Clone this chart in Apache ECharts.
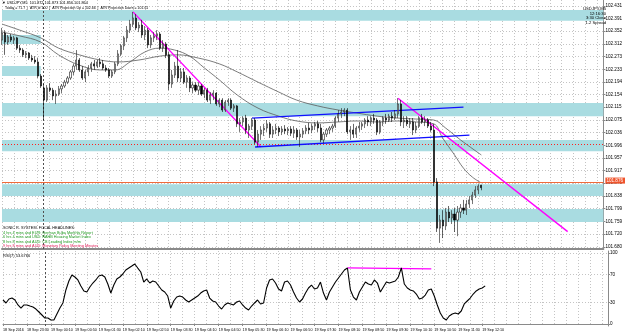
<!DOCTYPE html>
<html><head><meta charset="utf-8">
<script src="https://cdn.jsdelivr.net/npm/echarts@6/dist/echarts.min.js"></script>
<style>html,body{margin:0;padding:0;background:#fff}#c{width:625px;height:335px}</style>
</head><body><div id="c"></div>
<script>
// ---- data ----
const openP = [
102.324,102.346,102.318,102.334,102.324,102.331,102.299,102.293,102.278,102.284,
102.268,102.262,102.256,102.212,102.175,102.137,102.175,102.168,102.150,102.156,
102.172,102.181,102.193,102.206,102.225,102.243,102.262,102.231,102.206,102.225,
102.237,102.250,102.243,102.256,102.250,102.237,102.231,102.212,102.225,102.250,
102.281,102.306,102.331,102.355,102.374,102.393,102.362,102.371,102.340,102.355,
102.309,102.331,102.337,102.343,102.299,102.312,102.278,102.187,102.215,102.243,
102.206,102.225,102.193,102.206,102.175,102.184,102.168,102.181,102.156,102.168,
102.137,102.153,102.159,102.125,102.137,102.106,102.131,102.137,102.112,102.119,
102.063,102.069,102.081,102.044,102.056,102.075,102.006,102.031,102.044,102.050,
102.063,102.031,102.044,102.050,102.038,102.047,102.041,102.047,102.034,102.044,
102.022,102.031,102.041,102.050,102.044,102.056,102.063,102.050,102.013,102.031,
102.044,102.050,102.056,102.081,102.094,102.100,102.106,102.038,102.044,102.031,
102.050,102.056,102.063,102.075,102.069,102.081,102.075,102.038,102.069,102.081,
102.075,102.087,102.081,102.094,102.125,102.069,102.075,102.063,102.069,102.044,
102.056,102.081,102.069,102.075,102.056,102.044,101.882,101.738,101.763,101.745,
101.788,101.770,101.782,101.763,101.788,101.801,101.794,101.813,101.826,101.841,
101.857,101.872];
const highP = [
102.362,102.355,102.340,102.343,102.337,102.334,102.309,102.299,102.290,102.287,
102.278,102.274,102.268,102.218,102.187,102.184,102.190,102.175,102.168,102.181,
102.187,102.200,102.212,102.231,102.250,102.293,102.268,102.243,102.231,102.246,
102.256,102.262,102.262,102.268,102.262,102.246,102.237,102.231,102.256,102.293,
102.312,102.337,102.368,102.387,102.412,102.405,102.380,102.387,102.368,102.362,
102.340,102.349,102.355,102.349,102.324,102.318,102.287,102.231,102.256,102.293,
102.237,102.237,102.215,102.212,102.193,102.193,102.193,102.187,102.175,102.175,
102.162,102.168,102.162,102.143,102.143,102.137,102.143,102.143,102.125,102.122,
102.081,102.087,102.091,102.063,102.081,102.081,102.044,102.056,102.063,102.075,
102.069,102.056,102.063,102.056,102.056,102.059,102.053,102.056,102.056,102.050,
102.044,102.050,102.059,102.066,102.063,102.069,102.072,102.063,102.038,102.050,
102.056,102.063,102.087,102.106,102.112,102.112,102.112,102.056,102.063,102.056,
102.069,102.069,102.081,102.087,102.087,102.094,102.081,102.075,102.087,102.094,
102.094,102.100,102.106,102.143,102.137,102.087,102.087,102.081,102.081,102.069,
102.087,102.094,102.087,102.081,102.069,102.063,101.894,101.779,101.794,101.801,
101.807,101.794,101.801,101.807,101.813,101.826,101.826,101.838,101.851,101.869,
101.875,101.873];
const lowP = [
102.309,102.278,102.309,102.318,102.312,102.293,102.284,102.271,102.268,102.262,
102.256,102.250,102.206,102.175,102.075,102.131,102.162,102.137,102.125,102.150,
102.159,102.175,102.187,102.200,102.215,102.231,102.225,102.200,102.193,102.212,
102.225,102.231,102.237,102.240,102.231,102.225,102.206,102.206,102.218,102.243,
102.274,102.293,102.318,102.346,102.365,102.355,102.349,102.331,102.324,102.299,
102.299,102.318,102.324,102.293,102.287,102.268,102.168,102.175,102.206,102.193,
102.193,102.187,102.175,102.162,102.159,102.162,102.153,102.150,102.143,102.131,
102.125,102.137,102.119,102.115,102.100,102.100,102.119,102.106,102.100,102.053,
102.038,102.056,102.031,102.019,102.044,102.000,101.991,102.013,102.025,102.038,
102.019,102.019,102.031,102.025,102.028,102.031,102.028,102.025,102.019,102.013,
101.991,102.019,102.031,102.031,102.034,102.044,102.038,102.006,102.003,102.022,
102.031,102.038,102.050,102.069,102.081,102.087,102.031,102.013,102.019,102.019,
102.038,102.044,102.050,102.056,102.056,102.063,102.028,102.031,102.056,102.063,
102.069,102.069,102.075,102.081,102.056,102.050,102.056,102.050,102.028,102.034,
102.050,102.063,102.056,102.050,102.038,101.869,101.726,101.692,101.707,101.732,
101.757,101.751,101.726,101.713,101.770,101.782,101.779,101.801,101.813,101.832,
101.844,101.856];
const closeP = [
102.346,102.318,102.334,102.324,102.331,102.299,102.293,102.278,102.284,102.268,
102.262,102.256,102.212,102.181,102.137,102.175,102.168,102.150,102.156,102.172,
102.181,102.193,102.206,102.225,102.243,102.262,102.231,102.206,102.225,102.237,
102.250,102.243,102.256,102.250,102.237,102.231,102.212,102.225,102.250,102.281,
102.306,102.331,102.355,102.374,102.393,102.362,102.371,102.340,102.355,102.309,
102.331,102.337,102.343,102.299,102.312,102.278,102.187,102.215,102.243,102.206,
102.225,102.193,102.206,102.175,102.184,102.168,102.181,102.156,102.168,102.137,
102.153,102.159,102.125,102.137,102.106,102.131,102.137,102.112,102.119,102.063,
102.069,102.081,102.044,102.056,102.075,102.006,102.031,102.044,102.050,102.063,
102.031,102.044,102.050,102.038,102.047,102.041,102.047,102.034,102.044,102.022,
102.031,102.041,102.050,102.044,102.056,102.063,102.050,102.013,102.031,102.044,
102.050,102.056,102.081,102.094,102.100,102.106,102.038,102.044,102.031,102.050,
102.056,102.063,102.075,102.069,102.081,102.075,102.038,102.069,102.081,102.075,
102.087,102.081,102.094,102.125,102.069,102.075,102.063,102.069,102.044,102.056,
102.081,102.069,102.075,102.056,102.044,101.882,101.738,101.763,101.745,101.788,
101.770,101.782,101.763,101.788,101.801,101.794,101.813,101.826,101.841,101.857,
101.869,101.864];
const rsiValues = [
33.8,29.6,35.2,36.6,33.8,26.8,22.5,26.8,26.8,25.3,
23.9,21.1,16.9,12.7,8.4,8.4,5.6,5.6,14.1,22.5,
29.6,47.9,60.5,69.0,66.2,62.0,53.5,46.5,45.1,52.1,
57.7,62.0,67.6,69.0,66.2,56.3,43.6,54.9,63.4,66.2,
70.4,76.0,78.8,81.6,84.5,78.8,73.2,59.1,63.4,57.7,
60.5,59.1,53.5,47.9,45.1,39.4,22.5,32.4,38.0,39.4,
38.0,33.8,31.0,33.8,36.6,39.4,43.6,46.5,47.9,36.6,
32.4,31.0,25.3,21.1,26.8,29.6,28.2,26.8,31.0,32.4,
26.8,22.5,19.7,25.3,29.6,33.8,28.2,29.6,50.7,62.0,
63.4,57.7,49.3,46.5,59.1,60.5,54.9,45.1,36.6,31.0,
35.2,43.6,50.7,54.9,49.3,50.7,59.1,43.6,33.8,45.1,
52.1,59.1,64.8,70.4,76.0,78.8,47.9,38.0,33.8,45.1,
52.1,59.1,56.3,54.9,62.0,57.7,45.1,52.1,59.1,57.7,
59.1,60.5,66.2,79.0,56.3,50.7,47.9,46.5,42.2,35.2,
36.6,40.8,47.9,49.3,39.4,26.8,15.5,8.4,5.6,11.3,
14.1,15.5,14.1,18.3,28.2,32.4,36.6,42.2,46.5,49.3,
50.7,53.7];
// moving averages: [bar index, price] read at intervals
const maSlowPts = [[0,102.374],[6,102.355],[13,102.331],[19,102.299],[26,102.278],[33,102.262],[39,102.256],[46,102.262],[53,102.274],[59,102.278],[66,102.268],[73,102.250],[79,102.225],[86,102.193],[93,102.162],[99,102.137],[106,102.119],[113,102.106],[119,102.097],[126,102.087],[133,102.081],[139,102.078],[145,102.075],[149,102.050],[154,102.013],[161,101.966]];
const maFastPts = [[0,102.349],[6,102.337],[13,102.318],[19,102.278],[26,102.246],[33,102.231],[38,102.231],[43,102.256],[48,102.287],[53,102.299],[58,102.293],[63,102.274],[68,102.237],[73,102.200],[79,102.153],[86,102.112],[93,102.087],[99,102.072],[106,102.066],[113,102.069],[119,102.072],[126,102.069],[133,102.072],[139,102.069],[145,102.063],[148,102.019],[152,101.966],[155,101.925],[158,101.897],[161,101.879]];
const timeLabels = ['18 Sep 2016','18 Sep 23:30','19 Sep 00:10','19 Sep 00:50','19 Sep 01:30','19 Sep 02:10','19 Sep 02:50','19 Sep 03:30','19 Sep 04:10','19 Sep 04:50','19 Sep 05:30','19 Sep 06:10','19 Sep 06:50','19 Sep 07:30','19 Sep 08:10','19 Sep 08:50','19 Sep 09:30','19 Sep 10:10','19 Sep 10:50','19 Sep 11:30','19 Sep 12:10'];
const priceTicks = [102.431,102.391,102.352,102.312,102.273,102.233,102.194,102.154,102.115,102.075,102.036,101.996,101.957,101.917,101.878,101.838,101.799,101.759,101.720,101.680];
const rsiTicks = [0,30,70,100];
// zone rectangles: [first bar, last bar, upper price, lower price]
const zoneRects = [
  [0, 202, 102.418, 102.384],
  [0, 13, 102.340, 102.312],
  [0, 13, 102.243, 102.212],
  [0, 202, 102.128, 102.087],
  [0, 202, 102.013, 101.978],
  [0, 202, 101.875, 101.838],
  [0, 202, 101.798, 101.757]
];
const magentaLines = [[[44,102.412],[87,101.991]],[[133,102.143],[190,101.727]]];
const blueLines = [[[84,102.081],[155,102.115]],[[85,101.991],[157,102.028]]];
const rsiMagentaLine = [[115,78.9],[143,77.5]];
const askPrice = 101.876, bidPrice = 101.864, roundLevel = 102.000;
const daySeparatorIndex = 14;
const slotCount = 203;
const headlines = [
  ['SONIC R. SYSTEM  FOCAL HEADLINES:', '#000000'],
  ['4 hrs 4 mins and EUR: German Buba Monthly Report', '#1f9a1f'],
  ['6 hrs 4 mins and USD: NAHB Housing Market Index', '#1f9a1f'],
  ['8 hrs 8 mins and AUD: CB Leading Index m/m', '#1f9a1f'],
  ['9 hrs 8 mins and AUD: Monetary Policy Meeting Minutes', '#e0205a']
];
const infoRight = ['USDJPY,M5','12:16:30','3:30 Close','1.2 Spread'];

// ---- chart ----
const FONT = 'Liberation Sans';
const cats = Array.from({length: slotCount}, (_, i) => String(i));
const candles = openP.map((o, i) => [o, closeP[i], lowP[i], highP[i]]);
const gridLine = {show: true, interval: (i) => i % 4 === 0, lineStyle: {color: '#c4c4c4', type: [1, 2], width: 1}};
const ySplit = {show: true, lineStyle: {color: '#c4c4c4', type: [1, 2], width: 1}};
const sepLine = {xAxis: daySeparatorIndex, lineStyle: {color: '#505050', type: [2, 2], width: 1}};

const chart = echarts.init(document.getElementById('c'), null, {renderer: 'canvas'});
const option = {
  animation: false,
  backgroundColor: '#ffffff',
  grid: [
    {left: 2, right: 17, top: 0, height: 249},
    {left: 2, right: 17, top: 251, height: 75}
  ],
  xAxis: [
    {type: 'category', gridIndex: 0, data: cats, boundaryGap: false,
     axisLine: {show: true, lineStyle: {color: '#8a8a8a', width: 2}},
     axisTick: {show: false}, axisLabel: {show: false}, splitLine: gridLine},
    {type: 'category', gridIndex: 1, data: cats, boundaryGap: false,
     axisLine: {show: true, lineStyle: {color: '#8a8a8a', width: 1}},
     axisTick: {show: true, interval: (i) => i % 8 === 0 && i <= 160, length: 2, lineStyle: {color: '#8a8a8a'}},
     axisLabel: {show: true, interval: (i) => i % 8 === 0 && i <= 160,
       formatter: (v, i) => timeLabels[Math.round(Number(v) / 8)] || '',
       align: 'left', fontSize: 3.7, fontFamily: FONT, color: '#000', margin: 2},
     splitLine: gridLine}
  ],
  yAxis: [
    {type: 'value', gridIndex: 0, position: 'right', min: 101.673, max: 102.449,
     axisLine: {show: true, lineStyle: {color: '#8a8a8a', width: 1}},
     axisTick: {show: true, customValues: priceTicks, length: 2, lineStyle: {color: '#8a8a8a'}},
     axisLabel: {show: true, customValues: priceTicks, formatter: (v) => Number(v).toFixed(3),
       fontSize: 4.6, fontFamily: FONT, color: '#000', margin: 2},
     splitLine: ySplit},
    {type: 'value', gridIndex: 1, position: 'right', min: -2.8, max: 102.8,
     axisLine: {show: true, lineStyle: {color: '#8a8a8a', width: 1}},
     axisTick: {show: true, customValues: rsiTicks, length: 2, lineStyle: {color: '#8a8a8a'}},
     axisLabel: {show: true, customValues: rsiTicks, fontSize: 4.6, fontFamily: FONT, color: '#000', margin: 2},
     splitLine: ySplit}
  ],
  series: [
    {name: 'zones', type: 'custom', xAxisIndex: 0, yAxisIndex: 0, data: zoneRects, z: 1, silent: true,
     encode: {x: [0, 1], y: [2, 3]},
     renderItem: (params, api) => {
       const p0 = api.coord([api.value(0), api.value(2)]);
       const p1 = api.coord([api.value(1), api.value(3)]);
       return {type: 'rect', shape: {x: p0[0], y: p0[1], width: p1[0] - p0[0], height: p1[1] - p0[1]},
               style: {fill: '#a9dce1'}};
     }},
    {name: 'MA slow', type: 'line', xAxisIndex: 0, yAxisIndex: 0, data: maSlowPts, smooth: 0.4,
     symbol: 'none', z: 3, lineStyle: {color: '#5a5a5a', width: 0.8}},
    {name: 'MA fast', type: 'line', xAxisIndex: 0, yAxisIndex: 0, data: maFastPts, smooth: 0.4,
     symbol: 'none', z: 3, lineStyle: {color: '#5a5a5a', width: 0.8}},
    {name: 'USDJPY', type: 'candlestick', xAxisIndex: 0, yAxisIndex: 0, data: candles, z: 5,
     barWidth: 1.6, clip: false,
     itemStyle: {color: '#ffffff', color0: '#000000', borderColor: '#1a1a1a', borderColor0: '#000000', borderWidth: 0.6}},
    {name: 'drawings', type: 'line', xAxisIndex: 0, yAxisIndex: 0, data: [], z: 6, silent: true,
     markLine: {silent: true, symbol: 'none', animation: false, label: {show: false},
       data: [
         sepLine,
         {yAxis: roundLevel, lineStyle: {color: '#ff2020', type: [1, 2], width: 1}},
         {yAxis: askPrice, lineStyle: {color: '#ef6a3a', type: 'solid', width: 1},
          label: {show: true, position: 'end', distance: 2, formatter: askPrice.toFixed(3), offset: [0, -2],
            backgroundColor: '#f0542c', color: '#fff', fontSize: 4.6, fontFamily: FONT, padding: [1, 2, 0, 1]}},
         {yAxis: bidPrice, lineStyle: {color: '#000', width: 0, opacity: 0},
          label: {show: true, position: 'end', distance: 2, formatter: bidPrice.toFixed(3), offset: [0, 1],
            backgroundColor: '#000', color: '#fff', fontSize: 4.6, fontFamily: FONT, padding: [1, 2, 0, 1]}}
       ].concat(magentaLines.map(l => [{coord: l[0], lineStyle: {color: '#ff00ff', width: 1.4, type: 'solid'}}, {coord: l[1]}]))
        .concat(blueLines.map(l => [{coord: l[0], lineStyle: {color: '#1010ff', width: 1.4, type: 'solid'}}, {coord: l[1]}]))}},
    {name: 'RSI(7)', type: 'line', xAxisIndex: 1, yAxisIndex: 1, data: rsiValues, symbol: 'none', z: 5,
     lineStyle: {color: '#000', width: 1.1},
     markLine: {silent: true, symbol: 'none', label: {show: false},
       data: [sepLine, [{coord: rsiMagentaLine[0], lineStyle: {color: '#ff00ff', width: 1.2, type: 'solid'}}, {coord: rsiMagentaLine[1]}]]}}
  ],
  graphic: [
    {type: 'text', x: 2, y: 1, z: 100, style: {text: '\u25BC USDJPY,M5  101.872 101.873 101.856 101.864', fontSize: 3.8, fontFamily: FONT, fill: '#000', verticalAlign: 'top'}},
    {type: 'text', x: 5, y: 6.5, z: 100, style: {text: 'Today = 71.7  |  ATR of 100  |  ATR Projection Up = 102.66  |  ATR Projection Down = 101.61', fontSize: 3.5, fontFamily: FONT, fill: '#000', verticalAlign: 'top'}},
    {type: 'text', x: 3, y: 256, z: 100, style: {text: 'RSI(7) 53.6766', fontSize: 4, fontFamily: FONT, fill: '#000', verticalAlign: 'middle'}}
  ].concat(infoRight.map((t, k) => ({type: 'text', x: 606, y: 9 + k * 4.6, z: 100,
      style: {text: t, fontSize: 4.2, fontFamily: FONT, fill: '#000', align: 'right', verticalAlign: 'middle'}})))
   .concat(headlines.map((h, k) => ({type: 'text', x: 3, y: 228 + k * 4.5, z: 100,
      style: {text: h[0], fontSize: 3.8, fontFamily: FONT, fill: h[1], verticalAlign: 'middle'}})))
};
chart.setOption(option);
</script>
</body></html>
